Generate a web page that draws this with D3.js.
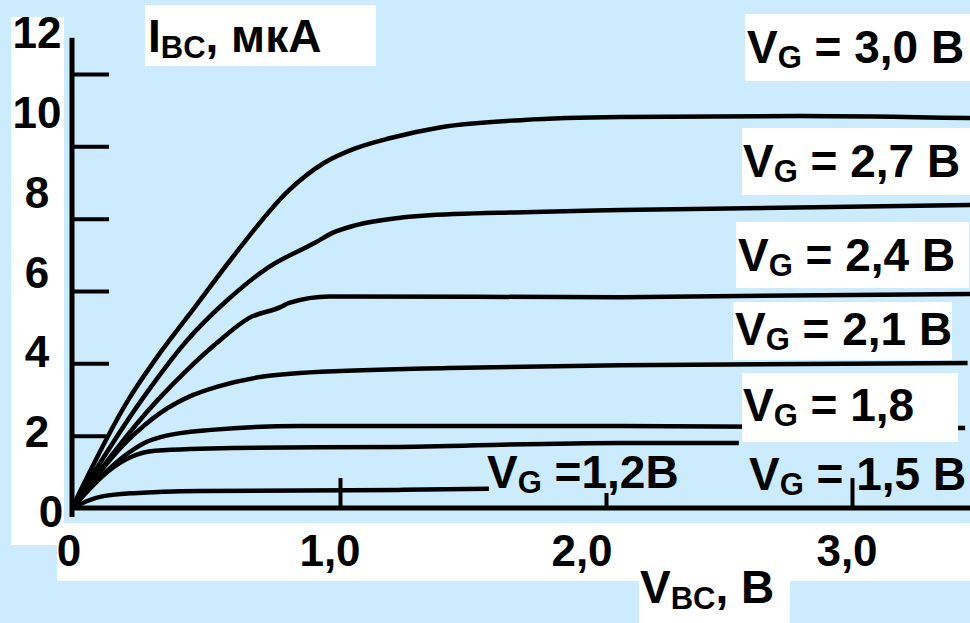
<!DOCTYPE html>
<html>
<head>
<meta charset="utf-8">
<script src="https://cdn.jsdelivr.net/npm/d3@7"></script>
<style>
  body { margin: 0; background: #ccebfd; }
  svg { display: block; font-family: "Liberation Sans", Arial, sans-serif; font-weight: bold; }
</style>
</head>
<body>
<div id="chart"></div>
<script>
        // curves I_BC(V_BC) for each gate voltage: [V_BC in В, I_BC in мкА]
        var curve30 = [[0,0],[0.21,2.99],[0.32,4.20],[0.45,5.47],[0.60,6.94],[0.81,8.79],[0.94,9.54],[1.06,9.95],[1.19,10.23],[1.38,10.53],[1.69,10.73],[2.06,10.81],[2.79,10.84],[3.48,10.78]];
        var curve27 = [[0,0],[0.26,2.99],[0.43,4.64],[0.58,5.75],[0.73,6.64],[0.91,7.35],[0.97,7.60],[1.06,7.82],[1.22,8.02],[1.31,8.08],[1.69,8.18],[2.06,8.24],[3.48,8.38]];
        var curve24 = [[0,0],[0.32,2.99],[0.43,3.82],[0.54,4.56],[0.66,5.25],[0.78,5.56],[0.81,5.67],[0.96,5.85],[2.06,5.83],[3.48,5.92]];
        var curve21 = [[0,0],[0.21,1.88],[0.33,2.63],[0.45,3.12],[0.54,3.35],[0.70,3.62],[0.85,3.73],[1.41,3.87],[2.06,3.95],[3.47,4.01]];
        var curve18 = [[0,0],[0.21,1.52],[0.27,1.80],[0.33,1.96],[0.52,2.16],[0.85,2.27],[2.06,2.27],[3.46,2.21]];
        var curve15 = [[0,0],[0.15,1.10],[0.22,1.41],[0.31,1.58],[0.60,1.66],[1.22,1.69],[2.06,1.80],[2.54,1.80]];
        var curve12 = [[0,0],[0.10,0.30],[0.23,0.41],[0.48,0.47],[1.22,0.50],[1.56,0.53]];

        var curves = [curve30, curve27, curve24, curve21, curve18, curve15, curve12];
        var gateLabels = ["3,0 В", "2,7 В", "2,4 В", "2,1 В", "1,8", "1,5 В", "1,2В"];

        var xTicks = [0, 1, 2, 3];
        var xTickLabels = ["0", "1,0", "2,0", "3,0"];
        var yTicks = [0, 2, 4, 6, 8, 10, 12];

        var width = 970, height = 623;

        // the drawing is hand made, so the V_BC axis is not quite even
        var x = d3.scaleLinear().domain([0, 1, 2, 3]).range([72, 340, 606, 852]);
        var y = d3.scaleLinear().domain([0, 12]).range([508, 74]);
        // tick labels sit a bit apart from their ticks
        var xLabelPos = d3.scaleLinear().domain([0, 1, 2, 3]).range([69, 330, 582, 847]);
        var yLabelPos = d3.scaleLinear().domain([0, 12]).range([527, 48]);

        var svg = d3.select("#chart")
            .append("svg")
                .attr("width", width)
                .attr("height", height);

        svg.append("rect")
            .attr("width", width)
            .attr("height", height)
            .attr("fill", "#ccebfd");

        // white panels behind axis texts
        var panels = [
            {x: 11, y: 17, w: 53, h: 528},
            {x: 57, y: 523, w: 913, h: 58},
            {x: 639, y: 581, w: 151, h: 42},
            {x: 145, y: 5, w: 231, h: 61}
        ];
        svg.selectAll(".panel")
            .data(panels)
            .enter().append("rect")
                .attr("class", "panel")
                .attr("x", function(d) { return d.x; })
                .attr("y", function(d) { return d.y; })
                .attr("width", function(d) { return d.w; })
                .attr("height", function(d) { return d.h; })
                .attr("fill", "white");

        // axes lines
        svg.append("line")
            .attr("x1", x(0)).attr("x2", x(0))
            .attr("y1", y(0) + 9).attr("y2", y(13))
            .attr("stroke", "black").attr("stroke-width", 5);
        svg.append("line")
            .attr("x1", x(0) - 2).attr("x2", width)
            .attr("y1", y(0)).attr("y2", y(0))
            .attr("stroke", "black").attr("stroke-width", 5);

        var xAxis = svg.append("g")
            .attr("transform", "translate(0," + y(0) + ")")
            .call(d3.axisBottom(x).tickValues(xTicks.slice(1)).tickSize(-30).tickFormat(""));
        var yAxis = svg.append("g")
            .attr("transform", "translate(" + x(0) + ",0)")
            .call(d3.axisRight(y).tickValues(yTicks.slice(1)).tickSize(37).tickFormat(""));

        [xAxis, yAxis].forEach(function(a) {
            a.select(".domain").remove();
            a.selectAll(".tick line").attr("stroke", "black").attr("stroke-width", 4);
        });
        // the 2,0 tick is a short one in the picture
        xAxis.selectAll(".tick line").filter(function(d) { return d === 2; }).attr("y2", -15);

        // tick labels
        svg.selectAll(".ylab")
            .data(yTicks)
            .enter().append("text")
                .attr("class", "ylab")
                .attr("x", function(d) { return d === 0 ? 51 : 37; })
                .attr("y", function(d) { return yLabelPos(d); })
                .attr("text-anchor", "middle")
                .attr("font-size", 44)
                .text(function(d) { return d; });

        svg.selectAll(".xlab")
            .data(xTicks)
            .enter().append("text")
                .attr("class", "xlab")
                .attr("x", function(d) { return xLabelPos(d); })
                .attr("y", 566)
                .attr("text-anchor", "middle")
                .attr("font-size", 44)
                .text(function(d, i) { return xTickLabels[i]; });

        // curves
        var line = d3.line()
            .curve(d3.curveMonotoneX)
            .x(function(d) { return x(d[0]); })
            .y(function(d) { return y(d[1]); });

        svg.selectAll(".curve")
            .data(curves)
            .enter().append("path")
                .attr("class", "curve")
                .attr("fill", "none")
                .attr("stroke", "black")
                .attr("stroke-width", 4.5)
                .attr("stroke-linejoin", "round")
                .attr("d", line);

        // labels of the curves (box: white panel or none)
        var labelLayout = [
            {tx: 747, ty: 63, box: [745, 14, 225, 67]},
            {tx: 743, ty: 177, box: [742, 128, 228, 67]},
            {tx: 738, ty: 271, box: [736, 222, 233, 66]},
            {tx: 735, ty: 345, box: [733, 302, 219, 58]},
            {tx: 743, ty: 421, box: [742, 373, 216, 69]},
            {tx: 749, ty: 490, box: null},
            {tx: 487, ty: 488, box: null}
        ];

        labelLayout.forEach(function(l, i) {
            if (l.box) {
                svg.append("rect")
                    .attr("x", l.box[0]).attr("y", l.box[1])
                    .attr("width", l.box[2]).attr("height", l.box[3])
                    .attr("fill", "white");
            }
            var t = svg.append("text")
                .attr("x", l.tx)
                .attr("y", l.ty)
                .attr("font-size", 46);
            t.append("tspan").text("V");
            t.append("tspan").attr("font-size", 31).attr("dy", 5).text("G");
            t.append("tspan").attr("dy", -5)
                .text(i === 6 ? " =" + gateLabels[i] : " = " + gateLabels[i]);
        });

        // axis titles
        function title(px, py, main, sub, rest) {
            var t = svg.append("text")
                .attr("x", px)
                .attr("y", py)
                .attr("font-size", 46);
            t.append("tspan").text(main);
            t.append("tspan").attr("font-size", 31).attr("dy", 6).text(sub);
            t.append("tspan").attr("dy", -6).text(rest);
        }
        title(148, 52, "I", "BC", ", мкА");
        title(640, 603, "V", "BC", ", В");
</script>
</body>
</html>
